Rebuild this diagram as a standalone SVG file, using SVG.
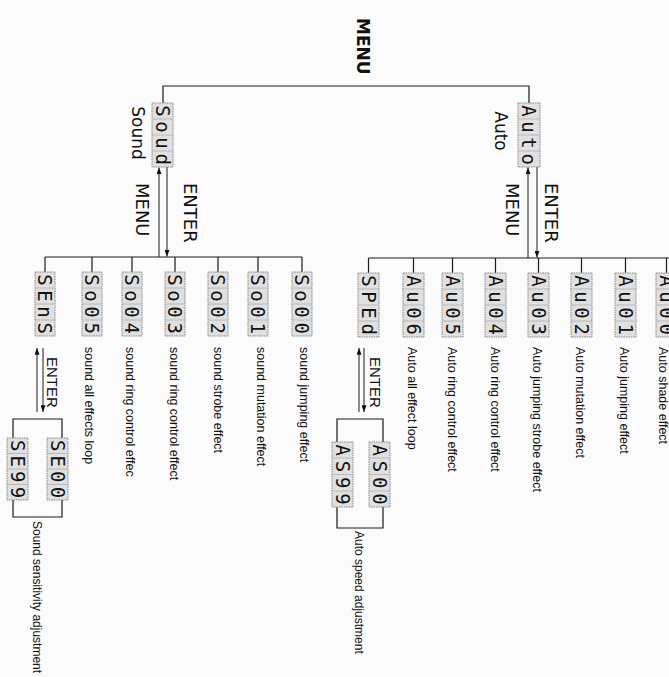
<svg xmlns="http://www.w3.org/2000/svg" width="669" height="677" viewBox="0 0 669 677">
<defs>
<marker id="ah" viewBox="0 0 8 6" refX="8" refY="3" markerWidth="7" markerHeight="5" markerUnits="userSpaceOnUse" orient="auto">
<path d="M0,0 L8,3 L0,6 Z" fill="#111"/>
</marker>
<style>
.ln{stroke:#1a1a1a;stroke-width:1.2;fill:none}
.ar{stroke:#1a1a1a;stroke-width:1;fill:none;marker-end:url(#ah)}
.frame{fill:#e0e0e0;stroke:#8c8c8c;stroke-width:1;stroke-dasharray:1.6 0.8}
.cell{stroke:#b0b0b0;stroke-width:0.8}
.seg{font-family:"DejaVu Sans Mono",monospace;font-size:19px;fill:#111;letter-spacing:4.6px;dominant-baseline:central}
.lbl{font-family:"Liberation Sans",Arial,sans-serif;font-size:12.5px;fill:#111}
.sub{font-family:"Liberation Sans",Arial,sans-serif;font-size:12px;fill:#111}
.ent{font-family:"Liberation Sans",Arial,sans-serif;font-size:15px;fill:#111}
.big{font-family:"DejaVu Sans",sans-serif;font-size:18px;fill:#111}
.nm{font-family:"DejaVu Sans",sans-serif;font-size:17px;fill:#111}
.title{font-family:"DejaVu Sans",sans-serif;font-weight:bold;font-size:17px;fill:#111}
</style>
</defs>
<rect width="669" height="677" fill="#fbfbfb"/>

<text class="title" transform="translate(356.5,18) rotate(90)">MENU</text>

<g id="connectors">
<path class="ln" d="M163,103 V86 H529 V103"/>
<path class="ar" d="M159,257 V167.5"/>
<path class="ar" d="M167,167 V256.5"/>
<path class="ar" d="M528,258 V167.5"/>
<path class="ar" d="M537,167 V257.5"/>
<path class="ln" d="M45,257 H302 M45,257 V272 M92,257 V272 M132,257 V272 M175,257 V272 M218,257 V272 M258,257 V272 M302,257 V272"/>
<path class="ln" d="M368.5,258 H669 M368.5,258 V273 M413.5,258 V273 M452.5,258 V273 M495.5,258 V273 M538.5,258 V273 M581.5,258 V273 M625.5,258 V273 M666.5,258 V273"/>
<path class="ar" d="M37,412 V348"/>
<path class="ar" d="M43,348 V412"/>
<path class="ln" d="M13,438 V419 H62 V438 M13,500 V517 H62 V500"/>
<path class="ar" d="M359,412 V348"/>
<path class="ar" d="M364,348 V412"/>
<path class="ln" d="M337,442 V419 H383 V442 M337,507 V528 H383 V507"/>
</g>
<g id="arrow-labels">
<text class="big" transform="translate(136,183) rotate(90)">MENU</text>
<text class="big" transform="translate(184,183) rotate(90)">ENTER</text>
<text class="big" transform="translate(506,183) rotate(90)">MENU</text>
<text class="big" transform="translate(545,183) rotate(90)">ENTER</text>
<text class="ent" transform="translate(47,357) rotate(90)">ENTER</text>
<text class="ent" transform="translate(370,357) rotate(90)">ENTER</text>
</g>

<g id="sound">
<rect class="frame" x="152" y="103" width="21" height="64"/>
<path class="cell" d="M152,119 h21 M152,135 h21 M152,151 h21"/>
<text class="seg" transform="translate(162.5,103) rotate(90)" x="2.3">Soud</text>
<text class="nm" text-anchor="middle" transform="translate(132,133) rotate(90)">Sound</text>
</g>
<g id="auto">
<rect class="frame" x="518" y="103" width="22" height="64"/>
<path class="cell" d="M518,119 h22 M518,135 h22 M518,151 h22"/>
<text class="seg" transform="translate(529,103) rotate(90)" x="2.3">Auto</text>
<text class="nm" text-anchor="middle" transform="translate(495,131) rotate(90)">Auto</text>
</g>

<g id="SEnS">
<rect class="frame" x="35" y="272" width="20" height="64"/>
<path class="cell" d="M35,288 h20 M35,304 h20 M35,320 h20"/>
<text class="seg" transform="translate(45,272) rotate(90)" x="2.3">SEnS</text>
</g>
<g id="So05">
<rect class="frame" x="82" y="272" width="20" height="64"/>
<path class="cell" d="M82,288 h20 M82,304 h20 M82,320 h20"/>
<text class="seg" transform="translate(92,272) rotate(90)" x="2.3">So05</text>
<text class="lbl" transform="translate(85,347) rotate(90)">sound all effects loop</text>
</g>
<g id="So04">
<rect class="frame" x="122" y="272" width="20" height="64"/>
<path class="cell" d="M122,288 h20 M122,304 h20 M122,320 h20"/>
<text class="seg" transform="translate(132,272) rotate(90)" x="2.3">So04</text>
<text class="lbl" transform="translate(126,347) rotate(90)">sound ring control effec</text>
</g>
<g id="So03">
<rect class="frame" x="165" y="272" width="20" height="64"/>
<path class="cell" d="M165,288 h20 M165,304 h20 M165,320 h20"/>
<text class="seg" transform="translate(175,272) rotate(90)" x="2.3">So03</text>
<text class="lbl" transform="translate(170,347) rotate(90)">sound ring control effect</text>
</g>
<g id="So02">
<rect class="frame" x="208" y="272" width="20" height="64"/>
<path class="cell" d="M208,288 h20 M208,304 h20 M208,320 h20"/>
<text class="seg" transform="translate(218,272) rotate(90)" x="2.3">So02</text>
<text class="lbl" transform="translate(214,347) rotate(90)">sound strobe effect</text>
</g>
<g id="So01">
<rect class="frame" x="248" y="272" width="20" height="64"/>
<path class="cell" d="M248,288 h20 M248,304 h20 M248,320 h20"/>
<text class="seg" transform="translate(258,272) rotate(90)" x="2.3">So01</text>
<text class="lbl" transform="translate(257,347) rotate(90)">sound mutation effect</text>
</g>
<g id="So00">
<rect class="frame" x="292" y="272" width="20" height="64"/>
<path class="cell" d="M292,288 h20 M292,304 h20 M292,320 h20"/>
<text class="seg" transform="translate(302,272) rotate(90)" x="2.3">So00</text>
<text class="lbl" transform="translate(300,347) rotate(90)">sound jumping effect</text>
</g>

<g id="SE99">
<rect class="frame" x="7" y="438" width="21" height="62"/>
<path class="cell" d="M7,453.5 h21 M7,469 h21 M7,484.5 h21"/>
<text class="seg" transform="translate(17.5,438) rotate(90)" x="2.05" style="letter-spacing:4.1px">SE99</text>
</g>
<g id="SE00">
<rect class="frame" x="47" y="438" width="21" height="62"/>
<path class="cell" d="M47,453.5 h21 M47,469 h21 M47,484.5 h21"/>
<text class="seg" transform="translate(57.5,438) rotate(90)" x="2.05" style="letter-spacing:4.1px">SE00</text>
</g>
<text class="sub" transform="translate(33,521) rotate(90)">Sound sensitivity adjustment</text>

<g id="SPEd">
<rect class="frame" x="358" y="273" width="21" height="64"/>
<path class="cell" d="M358,289 h21 M358,305 h21 M358,321 h21"/>
<text class="seg" transform="translate(368.5,273) rotate(90)" x="2.3">SPEd</text>
</g>
<g id="AU06">
<rect class="frame" x="403" y="273" width="21" height="64"/>
<path class="cell" d="M403,289 h21 M403,305 h21 M403,321 h21"/>
<text class="seg" transform="translate(413.5,273) rotate(90)" x="2.3">Au06</text>
<text class="lbl" transform="translate(408,347) rotate(90)">Auto all effect loop</text>
</g>
<g id="AU05">
<rect class="frame" x="442" y="273" width="21" height="64"/>
<path class="cell" d="M442,289 h21 M442,305 h21 M442,321 h21"/>
<text class="seg" transform="translate(452.5,273) rotate(90)" x="2.3">Au05</text>
<text class="lbl" transform="translate(448,347) rotate(90)">Auto ring control effect</text>
</g>
<g id="AU04">
<rect class="frame" x="485" y="273" width="21" height="64"/>
<path class="cell" d="M485,289 h21 M485,305 h21 M485,321 h21"/>
<text class="seg" transform="translate(495.5,273) rotate(90)" x="2.3">Au04</text>
<text class="lbl" transform="translate(491,347) rotate(90)">Auto ring control effect</text>
</g>
<g id="AU03">
<rect class="frame" x="528" y="273" width="21" height="64"/>
<path class="cell" d="M528,289 h21 M528,305 h21 M528,321 h21"/>
<text class="seg" transform="translate(538.5,273) rotate(90)" x="2.3">Au03</text>
<text class="lbl" transform="translate(533,347) rotate(90)">Auto jumping strobe effect</text>
</g>
<g id="AU02">
<rect class="frame" x="571" y="273" width="21" height="64"/>
<path class="cell" d="M571,289 h21 M571,305 h21 M571,321 h21"/>
<text class="seg" transform="translate(581.5,273) rotate(90)" x="2.3">Au02</text>
<text class="lbl" transform="translate(576,347) rotate(90)">Auto mutation effect</text>
</g>
<g id="AU01">
<rect class="frame" x="615" y="273" width="21" height="64"/>
<path class="cell" d="M615,289 h21 M615,305 h21 M615,321 h21"/>
<text class="seg" transform="translate(625.5,273) rotate(90)" x="2.3">Au01</text>
<text class="lbl" transform="translate(620,347) rotate(90)">Auto jumping effect</text>
</g>
<g id="AU00">
<rect class="frame" x="656" y="273" width="21" height="64"/>
<path class="cell" d="M656,289 h21 M656,305 h21 M656,321 h21"/>
<text class="seg" transform="translate(666.5,273) rotate(90)" x="2.3">Au00</text>
<text class="lbl" transform="translate(659,347) rotate(90)">Auto shade effect</text>
</g>

<g id="AS99">
<rect class="frame" x="332" y="442" width="21" height="65"/>
<path class="cell" d="M332,458 h21 M332,474.5 h21 M332,491 h21"/>
<text class="seg" transform="translate(342.5,442) rotate(90)" x="2.4" style="letter-spacing:4.85px">AS99</text>
</g>
<g id="AS00">
<rect class="frame" x="369" y="442" width="21" height="65"/>
<path class="cell" d="M369,458 h21 M369,474.5 h21 M369,491 h21"/>
<text class="seg" transform="translate(379.5,442) rotate(90)" x="2.4" style="letter-spacing:4.85px">AS00</text>
</g>
<text class="sub" transform="translate(355,531) rotate(90)">Auto speed adjustment</text>
</svg>
